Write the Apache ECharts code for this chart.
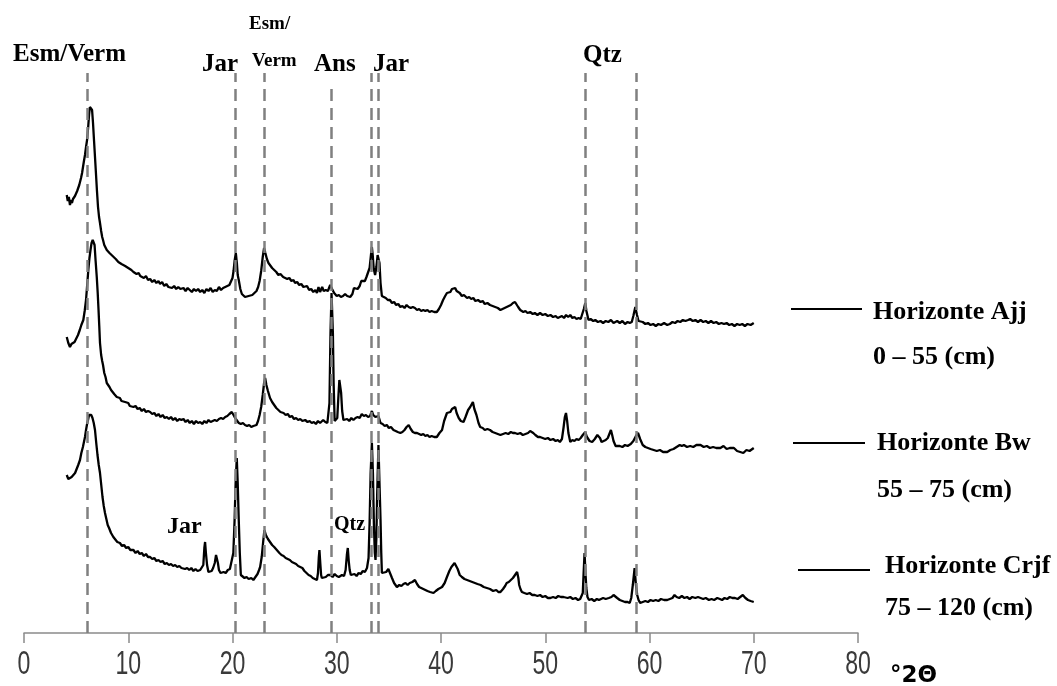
<!DOCTYPE html>
<html>
<head>
<meta charset="utf-8">
<script src="https://cdn.jsdelivr.net/npm/echarts@6/dist/echarts.min.js"></script>
<style>
  html, body { margin: 0; padding: 0; background: #fff; }
  #chart { width: 1057px; height: 686px; }
</style>
</head>
<body>
<div id="chart"></div>
<script>
// XRD patterns, [2theta, intensity a.u.]
var ajjData = [
  [4.1,138],[4.2,132],[4.3,136],[4.41,128],[4.5,133],[4.6,130],[4.7,134],[4.8,132],[4.89,137],[5.0,138],[5.1,142],[5.18,143],[5.3,148],[5.4,150],[5.47,155],[5.57,160],[5.66,166],[5.75,172],[5.85,178],[5.95,186],[6.05,193],[6.15,205],[6.24,218],[6.32,226],[6.38,228],[6.45,227],[6.53,223],[6.62,210],[6.72,192],[6.81,176],[6.9,160],[7.0,142],[7.1,126],[7.2,116],[7.29,110],[7.4,102],[7.5,96],[7.58,93],[7.7,88],[7.8,86],[7.94,83],[8.05,81],[8.2,80],[8.35,78],[8.5,77],[8.65,75],[8.8,74],[8.9,73],[9.05,71],[9.2,72],[9.35,69],[9.5,70],[9.7,67],[9.85,68],[10.0,65],[10.15,66],[10.3,63],[10.5,61],[10.65,63],[10.8,59],[11.0,60],[11.15,57],[11.3,58],[11.5,55],[11.7,57],[11.9,53],[12.1,54],[12.3,51],[12.5,53],[12.7,50],[12.9,52],[13.05,49],[13.25,51],[13.45,47],[13.65,49],[13.85,46],[14.0,48],[14.2,45],[14.4,47],[14.6,44],[14.8,46],[15.0,44],[15.3,45],[15.5,42],[15.7,45],[15.9,43],[16.1,41],[16.3,44],[16.5,42],[16.7,44],[16.9,41],[17.1,43],[17.3,40],[17.5,44],[17.7,42],[17.9,45],[18.1,41],[18.3,43],[18.5,42],[18.7,46],[18.9,43],[19.1,45],[19.3,46],[19.5,47],[19.7,48],[19.87,50],[20.0,55],[20.1,62],[20.2,72],[20.32,80],[20.42,70],[20.5,58],[20.6,53],[20.75,44],[20.9,39],[21.05,37],[21.2,36],[21.37,35],[21.55,37],[21.7,36],[21.9,38],[22.1,40],[22.3,42],[22.46,46],[22.6,52],[22.75,62],[22.9,76],[23.03,85],[23.15,80],[23.3,74],[23.45,70],[23.6,68],[23.8,65],[24.0,63],[24.2,61],[24.4,58],[24.6,59],[24.86,56],[25.05,57],[25.25,54],[25.45,55],[25.65,52],[25.85,53],[26.0,50],[26.2,51],[26.4,48],[26.6,49],[26.8,46],[26.97,45],[27.15,47],[27.35,43],[27.55,44],[27.75,41],[27.95,43],[28.1,40],[28.25,46],[28.4,41],[28.6,46],[28.75,42],[28.95,43],[29.15,42],[29.37,48],[29.55,44],[29.75,40],[30.0,37],[30.2,38],[30.4,36],[30.6,37],[30.8,39],[31.0,37],[31.29,36],[31.5,39],[31.65,45],[31.8,43],[32.0,44],[32.2,47],[32.35,52],[32.5,50],[32.7,52],[32.85,56],[33.0,58],[33.15,65],[33.3,80],[33.37,86],[33.45,78],[33.55,64],[33.68,58],[33.8,66],[33.92,78],[34.0,80],[34.1,70],[34.2,50],[34.33,37],[34.5,36],[34.7,35],[34.9,33],[35.1,33],[35.3,30],[35.5,31],[35.7,28],[35.9,29],[36.1,26],[36.3,27],[36.5,25],[36.7,28],[36.9,26],[37.1,25],[37.3,26],[37.5,25],[37.7,23],[37.9,24],[38.1,22],[38.3,23],[38.5,22],[38.7,23],[38.9,21],[39.1,22],[39.35,21],[39.6,21],[39.8,24],[40.0,28],[40.2,33],[40.4,37],[40.57,40],[40.75,42],[40.9,41],[41.05,44],[41.2,43],[41.36,45],[41.5,42],[41.65,41],[41.8,40],[42.0,37],[42.2,38],[42.5,35],[42.7,36],[42.9,34],[43.1,35],[43.3,32],[43.55,33],[43.8,31],[44.0,32],[44.2,29],[44.45,30],[44.7,28],[44.95,27],[45.2,26],[45.45,25],[45.7,23],[45.9,24],[46.1,25],[46.3,26],[46.5,27],[46.7,28],[46.9,30],[47.1,31],[47.25,29],[47.4,26],[47.6,23],[47.9,21],[48.1,22],[48.3,20],[48.55,21],[48.8,19],[49.0,20],[49.25,18],[49.5,20],[49.75,18],[50.0,19],[50.25,17],[50.5,18],[50.75,16],[51.0,17],[51.2,15],[51.4,16],[51.6,17],[51.8,15],[52.0,18],[52.2,16],[52.4,18],[52.6,15],[52.8,16],[53.0,14],[53.2,15],[53.4,14],[53.55,16],[53.7,24],[53.84,30],[53.95,22],[54.15,13],[54.35,14],[54.6,12],[54.8,13],[55.05,11],[55.3,12],[55.55,10],[55.8,12],[56.05,11],[56.3,13],[56.55,10],[56.9,12],[57.15,10],[57.4,12],[57.65,9],[57.9,11],[58.1,10],[58.3,11],[58.45,17],[58.64,26],[58.8,18],[58.95,12],[59.1,10],[59.35,11],[59.6,9],[59.85,10],[60.1,8],[60.35,9],[60.6,7],[60.85,9],[61.1,8],[61.4,10],[61.7,8],[61.95,9],[62.2,11],[62.45,10],[62.7,12],[62.95,11],[63.2,13],[63.45,12],[63.7,13],[63.9,14],[64.15,12],[64.4,13],[64.65,11],[64.9,13],[65.15,11],[65.4,12],[65.65,10],[65.9,12],[66.15,10],[66.4,11],[66.65,9],[66.9,10],[67.15,9],[67.4,10],[67.65,8],[67.9,9],[68.15,7],[68.4,9],[68.65,8],[68.9,9],[69.15,7],[69.4,9],[69.7,8],[70.0,10]
];

var bwData = [
  [4.1,146],[4.25,140],[4.41,136],[4.55,139],[4.7,138],[4.85,141],[5.0,143],[5.18,148],[5.35,153],[5.5,158],[5.69,163],[5.82,172],[5.95,183],[6.06,198],[6.17,213],[6.28,225],[6.38,233],[6.48,240],[6.59,243],[6.68,241],[6.77,238],[6.87,222],[6.98,206],[7.07,190],[7.15,173],[7.22,157],[7.29,140],[7.4,128],[7.5,122],[7.58,118],[7.7,110],[7.82,106],[7.94,100],[8.05,98],[8.2,96],[8.35,93],[8.5,91],[8.65,89],[8.8,87],[8.9,86],[9.05,84],[9.2,85],[9.35,82],[9.5,83],[9.7,81],[9.85,79],[10.0,80],[10.15,77],[10.3,78],[10.5,76],[10.7,77],[10.9,74],[11.1,75],[11.3,72],[11.5,74],[11.7,71],[11.9,72],[12.1,71],[12.3,69],[12.5,70],[12.7,67],[12.9,69],[13.1,66],[13.3,68],[13.5,65],[13.7,66],[13.9,64],[14.1,66],[14.3,63],[14.5,65],[14.7,62],[14.9,64],[15.1,63],[15.3,64],[15.5,61],[15.7,63],[15.9,60],[16.1,62],[16.3,59],[16.5,62],[16.7,60],[16.9,61],[17.1,59],[17.3,62],[17.5,60],[17.7,63],[17.9,61],[18.1,62],[18.3,63],[18.5,62],[18.7,64],[18.9,65],[19.1,64],[19.3,66],[19.5,67],[19.7,69],[19.93,71],[20.1,68],[20.25,65],[20.4,63],[20.6,60],[20.8,59],[21.0,60],[21.2,58],[21.4,57],[21.6,58],[21.8,56],[22.0,57],[22.15,56],[22.3,58],[22.45,62],[22.6,68],[22.75,76],[22.9,88],[23.03,100],[23.13,105],[23.25,98],[23.4,92],[23.6,85],[23.8,81],[24.0,78],[24.2,75],[24.4,73],[24.6,71],[24.9,70],[25.1,68],[25.3,69],[25.5,66],[25.7,67],[25.9,64],[26.1,65],[26.3,63],[26.5,64],[26.7,62],[26.97,63],[27.2,61],[27.4,62],[27.6,60],[27.8,61],[28.0,59],[28.2,62],[28.4,60],[28.7,63],[28.9,61],[29.1,60],[29.2,62],[29.3,80],[29.4,150],[29.5,190],[29.56,192],[29.63,150],[29.7,100],[29.8,62],[29.95,61],[30.05,65],[30.15,85],[30.25,103],[30.33,105],[30.42,90],[30.52,72],[30.64,63],[30.8,62],[31.0,64],[31.2,62],[31.4,65],[31.6,63],[31.8,65],[32.0,66],[32.2,65],[32.4,69],[32.6,67],[32.8,68],[33.0,66],[33.2,67],[33.37,72],[33.5,68],[33.7,66],[33.85,65],[34.0,67],[34.2,60],[34.4,59],[34.6,57],[34.8,58],[35.0,55],[35.2,56],[35.44,53],[35.65,52],[35.85,51],[36.1,50],[36.3,51],[36.5,53],[36.7,56],[36.9,58],[37.1,54],[37.3,51],[37.5,50],[37.7,50],[37.9,49],[38.1,48],[38.3,49],[38.5,47],[38.7,48],[38.9,46],[39.1,47],[39.35,46],[39.6,46],[39.85,50],[40.1,53],[40.3,62],[40.57,70],[40.75,72],[40.9,71],[41.05,74],[41.2,73],[41.36,76],[41.5,70],[41.7,65],[41.9,62],[42.16,61],[42.35,66],[42.6,73],[42.8,76],[43.06,81],[43.2,74],[43.4,68],[43.6,60],[43.76,56],[44.0,55],[44.2,53],[44.45,54],[44.7,53],[44.95,51],[45.2,50],[45.45,49],[45.7,48],[45.95,49],[46.2,50],[46.45,49],[46.7,51],[46.9,50],[47.1,50],[47.35,49],[47.6,50],[47.85,48],[48.1,49],[48.35,50],[48.55,52],[48.7,53],[48.85,50],[49.05,48],[49.3,46],[49.5,46],[49.75,45],[50.0,44],[50.25,45],[50.5,43],[50.75,44],[51.0,42],[51.2,43],[51.4,41],[51.6,44],[51.75,55],[51.88,66],[51.99,70],[52.1,62],[52.22,50],[52.4,41],[52.6,43],[52.8,42],[53.0,44],[53.2,43],[53.4,45],[53.6,48],[53.84,51],[54.0,46],[54.25,42],[54.5,41],[54.75,44],[55.0,48],[55.1,50],[55.25,45],[55.4,41],[55.6,42],[55.8,43],[56.0,45],[56.15,49],[56.3,53],[56.42,48],[56.55,42],[56.75,37],[56.9,35],[57.15,37],[57.4,36],[57.65,38],[57.9,37],[58.2,39],[58.45,42],[58.7,47],[58.9,50],[59.1,44],[59.35,38],[59.6,36],[59.85,35],[60.1,34],[60.4,33],[60.7,32],[61.0,33],[61.3,31],[61.7,31],[62.0,33],[62.3,34],[62.6,36],[62.9,38],[63.1,37],[63.3,38],[63.6,36],[63.9,37],[64.2,36],[64.5,38],[64.9,38],[65.2,36],[65.5,37],[65.8,35],[66.1,36],[66.4,35],[66.8,35],[67.1,37],[67.4,34],[67.7,35],[68.1,35],[68.4,32],[68.7,31],[69.0,30],[69.3,33],[69.6,32],[70.0,35]
];

var crjfData = [
  [4.1,158],[4.25,154],[4.41,153],[4.57,156],[4.73,155],[4.9,160],[5.05,164],[5.2,168],[5.37,173],[5.5,180],[5.65,186],[5.75,191],[5.85,196],[5.95,203],[6.05,209],[6.14,213],[6.24,218],[6.33,220],[6.45,218],[6.57,215],[6.69,210],[6.81,203],[6.93,190],[7.05,178],[7.17,168],[7.29,160],[7.41,148],[7.53,136],[7.65,127],[7.77,120],[7.9,114],[8.03,108],[8.16,105],[8.35,100],[8.57,96],[8.75,94],[8.95,91],[9.2,90],[9.4,87],[9.6,88],[9.8,85],[10.0,86],[10.2,83],[10.5,83],[10.7,80],[10.9,82],[11.1,79],[11.3,80],[11.5,77],[11.7,79],[11.9,76],[12.1,76],[12.3,74],[12.5,75],[12.7,72],[12.9,73],[13.1,71],[13.3,72],[13.5,69],[13.7,70],[13.9,68],[14.1,69],[14.3,67],[14.5,68],[14.7,66],[14.9,67],[15.1,65],[15.26,66],[15.45,64],[15.65,65],[15.85,63],[16.05,65],[16.25,62],[16.45,64],[16.65,62],[16.9,63],[17.05,64],[17.2,68],[17.3,85],[17.37,91],[17.45,80],[17.56,68],[17.69,61],[17.85,63],[18.0,62],[18.14,65],[18.3,70],[18.42,78],[18.5,80],[18.6,70],[18.7,63],[18.85,60],[18.97,58],[19.15,61],[19.35,60],[19.55,63],[19.75,64],[19.93,66],[20.08,80],[20.2,113],[20.3,150],[20.41,175],[20.5,150],[20.6,113],[20.7,80],[20.8,58],[20.95,57],[21.15,55],[21.35,56],[21.55,54],[21.8,55],[22.0,53],[22.2,56],[22.4,59],[22.55,63],[22.65,66],[22.8,76],[22.95,92],[23.06,103],[23.2,98],[23.4,94],[23.6,91],[23.8,88],[24.0,86],[24.25,83],[24.5,80],[24.7,78],[24.9,77],[25.1,75],[25.3,74],[25.5,73],[25.7,71],[25.9,70],[26.1,69],[26.3,67],[26.5,66],[26.7,65],[26.9,62],[27.1,60],[27.3,58],[27.5,57],[27.7,55],[27.9,54],[28.1,53],[28.2,60],[28.28,76],[28.34,83],[28.42,70],[28.5,58],[28.57,55],[28.75,57],[28.95,56],[29.15,58],[29.4,58],[29.6,56],[29.8,59],[30.0,57],[30.2,56],[30.33,56],[30.5,58],[30.7,57],[30.85,63],[30.97,78],[31.06,85],[31.15,72],[31.24,63],[31.35,58],[31.5,56],[31.7,59],[31.9,57],[32.1,60],[32.3,59],[32.5,62],[32.7,61],[32.9,65],[33.05,75],[33.15,110],[33.25,160],[33.37,190],[33.47,160],[33.56,110],[33.65,80],[33.72,73],[33.8,95],[33.88,140],[34.0,188],[34.1,150],[34.2,113],[34.27,80],[34.33,60],[34.5,62],[34.74,61],[34.95,64],[35.1,63],[35.3,55],[35.5,50],[35.77,46],[36.0,48],[36.2,47],[36.4,49],[36.6,50],[36.8,48],[37.0,50],[37.25,51],[37.5,53],[37.7,49],[37.9,46],[38.1,45],[38.3,44],[38.5,43],[38.7,42],[38.95,41],[39.28,40],[39.5,42],[39.75,44],[40.1,46],[40.35,50],[40.57,56],[40.8,62],[41.0,66],[41.15,68],[41.3,70],[41.46,71],[41.6,64],[41.8,58],[42.0,56],[42.25,54],[42.5,53],[42.75,52],[43.0,51],[43.25,50],[43.5,49],[43.8,48],[44.1,46],[44.4,45],[44.7,44],[45.0,42],[45.3,43],[45.5,41],[45.7,41],[45.95,44],[46.15,47],[46.3,50],[46.5,51],[46.7,53],[46.9,55],[47.1,58],[47.3,61],[47.42,55],[47.5,48],[47.62,44],[47.76,41],[48.0,40],[48.25,39],[48.5,40],[48.75,38],[49.0,38],[49.25,37],[49.5,38],[49.75,36],[50.0,37],[50.25,35],[50.5,35],[50.75,36],[51.0,35],[51.25,37],[51.5,36],[51.75,36],[51.9,36],[52.15,35],[52.4,36],[52.65,34],[52.9,35],[53.15,33],[53.35,34],[53.5,33],[53.6,40],[53.68,60],[53.77,80],[53.86,60],[53.94,45],[54.05,36],[54.2,33],[54.45,34],[54.7,32],[54.95,34],[55.15,33],[55.3,33],[55.55,35],[55.8,34],[56.1,35],[56.35,36],[56.55,38],[56.7,37],[56.9,35],[57.15,33],[57.4,32],[57.65,31],[57.9,31],[58.1,30],[58.25,35],[58.4,48],[58.57,65],[58.7,48],[58.82,38],[58.95,33],[59.1,30],[59.35,31],[59.6,32],[59.85,31],[60.1,33],[60.35,32],[60.6,33],[60.85,32],[61.1,34],[61.4,33],[61.7,33],[61.95,34],[62.2,35],[62.4,38],[62.6,36],[62.85,35],[63.1,37],[63.35,35],[63.6,36],[63.85,34],[64.1,36],[64.4,35],[64.65,36],[64.9,35],[65.15,34],[65.4,35],[65.7,33],[65.95,34],[66.2,33],[66.5,35],[66.75,34],[66.96,33],[67.2,35],[67.45,34],[67.7,36],[67.95,35],[68.2,35],[68.45,34],[68.7,36],[68.95,38],[69.2,35],[69.45,33],[69.7,32],[70.0,31]
];

// vertical offset of each pattern (stacked display)
var seriesNames = ['Horizonte Ajj', 'Horizonte Bw', 'Horizonte Crjf'];
var offsets = [300, 150, 0];

// reference peak positions (°2θ) marked with dashed lines
var peakLines = [6.1, 20.3, 23.0, 29.5, 33.35, 34.0, 53.8, 58.7];
var xTickLabels = [0, 10, 20, 30, 40, 50, 60, 70, 80];

var serif = '"Liberation Serif", "Times New Roman", serif';

function shift(data, off) {
  return data.map(function (p) { return [p[0], p[1] + off]; });
}

var myChart = echarts.init(document.getElementById('chart'));

var markLines = peakLines.map(function (x) {
  // the Ans line starts a bit lower than the others
  var top = (x === 29.5) ? 551 : 560;
  return [{ coord: [x, 0] }, { coord: [x, top] }];
});

function text(str, x, y, size, family) {
  return {
    type: 'text', x: x, y: y, silent: true,
    style: {
      text: str, fill: '#000', verticalAlign: 'middle',
      font: 'bold ' + size + 'px ' + (family || serif)
    }
  };
}
function legendLine(x1, x2, y) {
  return { type: 'line', silent: true, shape: { x1: x1, y1: y, x2: x2, y2: y }, style: { stroke: '#000', lineWidth: 2 } };
}

var option = {
  animation: false,
  backgroundColor: '#fff',
  grid: { left: 24, right: 199, top: 73, bottom: 53 },
  xAxis: {
    type: 'value', min: xTickLabels[0], max: xTickLabels[xTickLabels.length - 1], interval: 10,
    axisLine: { lineStyle: { color: '#8a8a8a', width: 1.5 } },
    axisTick: { show: true, length: 10, lineStyle: { color: '#8a8a8a', width: 1.5 } },
    splitLine: { show: false },
    axisLabel: { show: false } // drawn below as narrow text
  },
  yAxis: { type: 'value', min: 0, max: 560, show: false },
  series: [
    { name: seriesNames[0], type: 'line', data: shift(ajjData, offsets[0]) },
    { name: seriesNames[1], type: 'line', data: shift(bwData, offsets[1]) },
    {
      name: seriesNames[2], type: 'line', data: shift(crjfData, offsets[2]),
      markLine: {
        silent: true, symbol: ['none', 'none'], label: { show: false },
        lineStyle: { color: '#808080', width: 2.5, type: [12, 7] },
        data: markLines
      }
    }
  ].map(function (s) {
    s.showSymbol = false;
    s.symbol = 'none';
    s.lineStyle = { color: '#000', width: 2.3 };
    s.silent = true;
    return s;
  }),
  graphic: [
    text('Esm/Verm', 13, 55, 25),
    text('Jar', 202, 65, 25),
    text('Esm/', 249, 24, 19),
    text('Verm', 252, 61, 19),
    text('Ans', 314, 65, 25),
    text('Jar', 373, 65, 25),
    text('Qtz', 583, 56, 25),
    text('Jar', 167, 527, 24),
    text('Qtz', 334, 525, 20),
    legendLine(791, 862, 309),
    text('Horizonte Ajj', 873, 312, 26),
    text('0 – 55 (cm)', 873, 357, 26),
    legendLine(793, 865, 443),
    text('Horizonte Bw', 877, 443, 26),
    text('55 – 75 (cm)', 877, 490, 26),
    legendLine(798, 870, 570),
    text('Horizonte Crjf', 885, 566, 26),
    text('75 – 120 (cm)', 885, 608, 26),
    text('°2Θ', 890, 676, 23, '"DejaVu Sans", sans-serif')
  ]
};

myChart.setOption(option);

// tick labels: tall, condensed digits, placed with the axis scale
var tickGraphics = xTickLabels.map(function (v) {
  var px = myChart.convertToPixel({ xAxisIndex: 0 }, v);
  return {
    type: 'text', x: px, y: 665, scaleX: 0.68, silent: true,
    style: {
      text: String(v), fill: '#3a3a3a', align: 'center', verticalAlign: 'middle',
      font: '34px "Liberation Sans", Arial, sans-serif'
    }
  };
});
myChart.setOption({ graphic: option.graphic.concat(tickGraphics) });
</script>
</body>
</html>
